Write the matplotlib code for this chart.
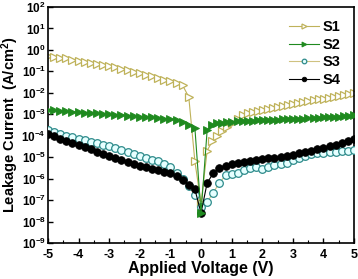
import numpy as np
import matplotlib
matplotlib.use("Agg")
import matplotlib.pyplot as plt
from matplotlib.ticker import FixedLocator, MultipleLocator, NullFormatter

plt.rcParams['font.family'] = ['Liberation Sans', 'DejaVu Sans']
plt.rcParams['font.weight'] = 'bold'
plt.rcParams['axes.unicode_minus'] = False
plt.rcParams['mathtext.fontset'] = 'custom'
plt.rcParams['mathtext.rm'] = 'Liberation Sans:bold'
plt.rcParams['mathtext.bf'] = 'Liberation Sans:bold'
plt.rcParams['mathtext.default'] = 'rm'

# voltage sweeps (V)
v_neg = np.round(np.linspace(-5.0, 0.0, 26), 3)          # 0.2 V steps incl. 0
v_pos_fine = np.round(np.linspace(0.2, 5.0, 30), 3)      # S1 / S2 positive side
v_pos = np.round(np.linspace(0.2, 5.0, 25), 3)           # S3 / S4 positive side

# log10 of leakage current density (A/cm^2)
s1_neg = [-0.28, -0.32, -0.36, -0.40, -0.45, -0.50, -0.55, -0.60, -0.65, -0.70,
          -0.76, -0.82, -0.88, -0.95, -1.02, -1.09, -1.16, -1.24, -1.31, -1.38,
          -1.45, -1.52, -1.65, -2.20, -5.20, -7.15]
s1_pos = [-4.70, -4.25, -4.00, -3.80, -3.60, -3.40, -3.20, -3.05, -2.95, -2.88,
          -2.84, -2.79, -2.75, -2.71, -2.66, -2.62, -2.57, -2.53, -2.49, -2.44,
          -2.40, -2.35, -2.31, -2.27, -2.22, -2.18, -2.13, -2.09, -2.04, -2.00]

s2_neg = [-2.80, -2.82, -2.84, -2.86, -2.88, -2.90, -2.92, -2.94, -2.96, -2.98,
          -3.00, -3.02, -3.04, -3.06, -3.09, -3.11, -3.13, -3.15, -3.18, -3.20,
          -3.22, -3.27, -3.38, -3.50, -3.64, -7.60]
s2_pos = [-3.75, -3.52, -3.43, -3.39, -3.36, -3.34, -3.33, -3.32, -3.31, -3.30,
          -3.29, -3.28, -3.27, -3.26, -3.25, -3.24, -3.23, -3.22, -3.21, -3.20,
          -3.19, -3.18, -3.17, -3.15, -3.14, -3.12, -3.11, -3.09, -3.07, -3.05]

s3_neg = [-3.75, -3.84, -3.92, -3.99, -4.06, -4.13, -4.20, -4.27, -4.34, -4.41,
          -4.50, -4.58, -4.67, -4.76, -4.85, -4.94, -5.03, -5.12, -5.20, -5.30,
          -5.45, -5.72, -6.02, -6.35, -6.75, -7.30]
s3_pos = [-7.10, -6.65, -6.20, -5.85, -5.78, -5.72, -5.62, -5.50, -5.46, -5.55,
          -5.45, -5.38, -5.33, -5.27, -5.15, -5.02, -4.93, -4.86, -4.80, -4.79,
          -4.77, -4.76, -4.73, -4.70, -4.67]

s4_neg = [-3.90, -4.02, -4.13, -4.23, -4.33, -4.43, -4.53, -4.63, -4.74, -4.84,
          -4.94, -5.04, -5.14, -5.24, -5.32, -5.40, -5.47, -5.54, -5.61, -5.68,
          -5.76, -5.90, -6.05, -6.30, -6.50, -7.60]
s4_pos = [-6.20, -5.75, -5.50, -5.40, -5.33, -5.28, -5.24, -5.20, -5.15, -5.10,
          -5.06, -5.02, -4.98, -4.93, -4.88, -4.82, -4.76, -4.70, -4.64, -4.57,
          -4.50, -4.42, -4.34, -4.25, -4.15]

x_ticks = list(range(-5, 6))
y_exponents = list(range(-9, 3))

fig = plt.figure(figsize=(3.58, 2.79), dpi=100)
ax = fig.add_axes([0.134, 0.129, 0.855, 0.846])

tan = '#bfb25a'
green = '#1f8a1f'
teal = '#2e8b8b'

series = [
    ('S1', np.concatenate([v_neg, v_pos_fine]), s1_neg + s1_pos,
     dict(color=tan, marker='>', mfc='white', mec=tan, ms=6, mew=0.9), 2),
    ('S2', np.concatenate([v_neg, v_pos_fine]), s2_neg + s2_pos,
     dict(color=green, marker='>', mfc=green, mec=green, ms=6, mew=0.6), 5),
    ('S3', np.concatenate([v_neg, v_pos]), s3_neg + s3_pos,
     dict(color='#cfc280', marker='o', mfc='#e6ffff', mec=teal, ms=5.5, mew=0.9), 3),
    ('S4', np.concatenate([v_neg, v_pos]), s4_neg + s4_pos,
     dict(color='black', marker='o', mfc='black', mec='black', ms=5.5, mew=0.6), 4),
]

for name, v, logj, style, z in series:
    ax.plot(v, 10.0 ** np.array(logj), lw=0.8, label=name, zorder=z, **style)

ax.set_yscale('log')
ax.set_xlim(-5, 5)
ax.set_ylim(1e-9, 1e2)
ax.xaxis.set_major_locator(FixedLocator(x_ticks))
ax.xaxis.set_minor_locator(MultipleLocator(0.5))
ax.set_xticklabels([str(t) for t in x_ticks])
ax.yaxis.set_major_locator(FixedLocator([10.0 ** e for e in y_exponents]))
ax.set_yticklabels([r'$10^{%d}$' % e for e in y_exponents])
ax.yaxis.set_minor_formatter(NullFormatter())

ax.tick_params(which='both', direction='in', top=False, right=False)
ax.tick_params(axis='x', labelsize=9, pad=4.5)
ax.tick_params(axis='y', labelsize=8.5, pad=1.5)
ax.tick_params(which='major', length=3.5, width=1)
ax.tick_params(which='minor', length=2, width=0.8)
for sp in ax.spines.values():
    sp.set_linewidth(1.2)

ax.set_xlabel('Applied Voltage (V)', fontsize=11.5, fontweight='bold', labelpad=0)
ax.set_ylabel(r'Leakage Current  (A/cm$^2$)', fontsize=10.5, fontweight='bold',
              labelpad=0)

ax.legend(loc='upper right', frameon=False, markerscale=0.6,
          handlelength=2.0, handletextpad=0.3, labelspacing=0.25,
          borderaxespad=0.5, prop={'weight': 'bold', 'size': 10.5})

fig.savefig('out.png', dpi=100)
